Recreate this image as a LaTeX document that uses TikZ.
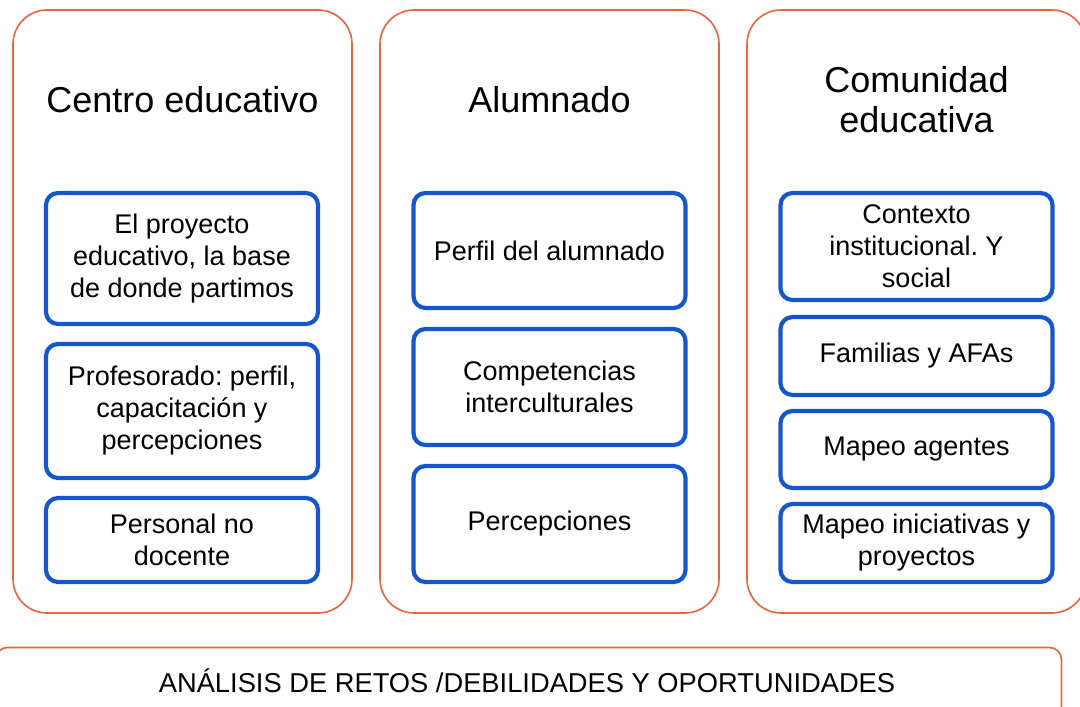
\documentclass[tikz,border=0pt]{standalone}
\usepackage{fontspec}
\setmainfont{Liberation Sans}
\frenchspacing
\definecolor{org}{RGB}{235,100,62}
\definecolor{blu}{RGB}{22,86,204}
\begin{document}
\begin{tikzpicture}[x=1pt,y=-1pt,
  outer/.style={draw=org,line width=1.6pt,rounded corners=34pt,minimum width=339pt,minimum height=603pt,inner sep=0pt},
  innerbox/.style={draw=blu,line width=4.2pt,rounded corners=12pt,minimum width=272pt,inner sep=0pt,align=center,font=\fontsize{27}{32}\selectfont\frenchspacing},
  titletext/.style={align=center,font=\fontsize{36}{40}\selectfont},
  bartext/.style={font=\fontsize{27.3}{30}\selectfont}]
\useasboundingbox (0,0) rectangle (1080,707);
% outer panels
\node[outer] (p1) at (182.5,311.5) {};
\node[outer] (p2) at (549.5,311.5) {};
\node[outer] (p3) at (916.5,311.5) {};
% titles
\node[titletext] (t1) at (182.5,100) {Centro educativo};
\node[titletext] (t2) at (549.5,100) {Alumnado};
\node[titletext] (t3) at (916.5,100) {Comunidad\\educativa};
% column 1
\node[innerbox,minimum height=131pt] (a1) at (182,258.5) {El proyecto\\educativo, la base\\de donde partimos};
\node[innerbox,minimum height=134pt] (a2) at (182,411) {Profesorado: perfil,\\capacitación y\\percepciones};
\node[innerbox,minimum height=84pt] (a3) at (182,540) {Personal no\\docente};
% column 2
\node[innerbox,minimum height=115pt] (b1) at (549.5,250.5) {Perfil del alumnado};
\node[innerbox,minimum height=116pt] (b2) at (549.5,387) {Competencias\\interculturales};
\node[innerbox,minimum height=116pt] (b3) at (549.5,524) {Percepciones};
% column 3
\node[innerbox,minimum height=107pt] (c1) at (916.5,246.5) {Contexto\\institucional. Y\\social};
\node[innerbox,minimum height=78pt] (c2) at (916.5,356) {Familias y AFAs};
\node[innerbox,minimum height=77pt] (c3) at (916.5,449.5) {Mapeo agentes};
\node[innerbox,minimum height=78pt] (c4) at (916.5,543) {Mapeo iniciativas y\\proyectos};
% bottom bar
\node[draw=org,line width=1.6pt,rounded corners=12pt,minimum width=1066pt,minimum height=72pt,inner sep=0pt] (bar) at (528.5,683.5) {};
\node[bartext] (bt) at (527,681) {ANÁLISIS DE RETOS /DEBILIDADES Y OPORTUNIDADES};
\end{tikzpicture}
\end{document}
